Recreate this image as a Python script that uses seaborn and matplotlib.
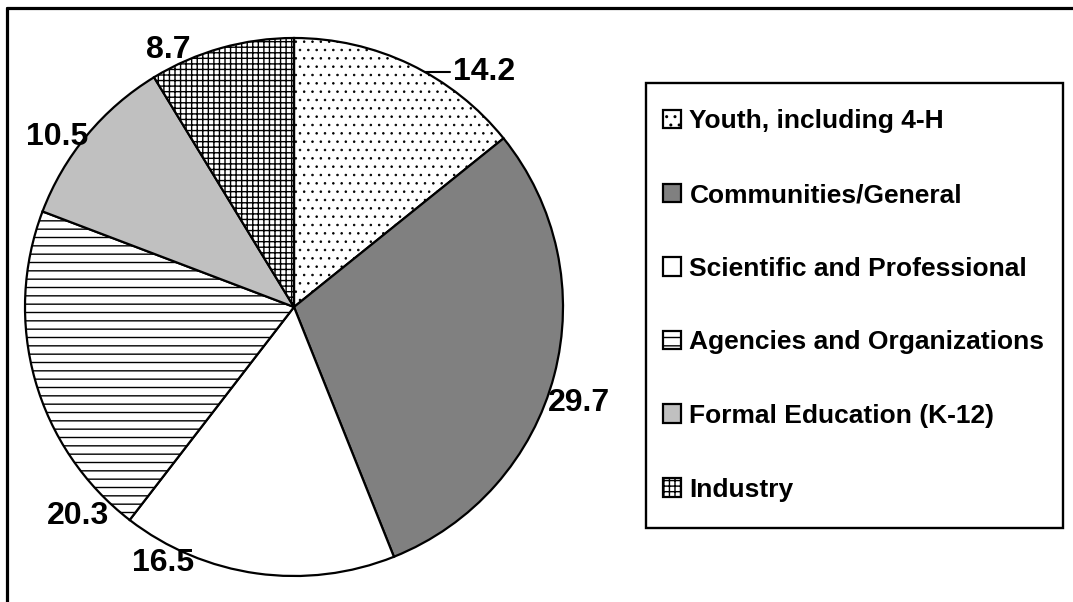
import matplotlib
matplotlib.use("Agg")
import matplotlib.pyplot as plt
import seaborn as sns
from matplotlib.lines import Line2D
from matplotlib.patches import Rectangle
import numpy as np

# ---- data ----
categories = ["Youth, including 4-H", "Communities/General", "Scientific and Professional",
              "Agencies and Organizations", "Formal Education (K-12)", "Industry"]
values = [14.2, 29.7, 16.5, 20.3, 10.5, 8.7]
value_labels = ["14.2", "29.7", "16.5", "20.3", "10.5", "8.7"]

# ---- styles / layout ----
fills = ["#ffffff", "#808080", "#ffffff", "#ffffff", "#c0c0c0", "#ffffff"]
hatches = ["..", None, None, "--", None, "+++"]
# label positions in pie-radius units (layout)
label_pos = [(0.705, 0.874), (1.06, -0.357), (-0.487, -0.952),
             (-0.803, -0.777), (-0.881, 0.632), (-0.468, 0.955)]

sns.set_theme(style="white")
plt.rcParams["font.family"] = ["Liberation Sans", "DejaVu Sans"]
plt.rcParams["font.weight"] = "bold"
plt.rcParams["text.color"] = "black"
plt.rcParams["hatch.linewidth"] = 1.0

W, H = 1073, 602
fig = plt.figure(figsize=(W / 100, H / 100), dpi=100)
fig.patch.set_facecolor("white")

cx, cy, R, half = 294, 307, 269, 290
ax = fig.add_axes([(cx - half) / W, (H - cy - half) / H, 2 * half / W, 2 * half / H])

wedges, _ = ax.pie(values, startangle=90, counterclock=False, radius=1,
                   colors=fills,
                   wedgeprops=dict(edgecolor="black", linewidth=1.6))
for w, h in zip(wedges, hatches):
    if h:
        w.set_hatch(h)
        if h == ".." and hasattr(w, "set_hatch_linewidth"):
            w.set_hatch_linewidth(0.6)
lim = half / R
ax.set_xlim(-lim, lim)
ax.set_ylim(-lim, lim)
ax.axis("off")

for txt, (x, y) in zip(value_labels, label_pos):
    ax.text(x, y, txt, fontsize=23, fontweight="bold", ha="center", va="center",
            color="black", clip_on=False)

# leader line for the first label
y0 = label_pos[0][1]
x_arc = np.sqrt(1 - y0 ** 2)
ax.plot([x_arc, 0.58], [y0, y0], color="black", lw=1.5, clip_on=False)

# legend
leg = fig.legend(wedges, categories, loc="upper left",
                 bbox_to_anchor=(663 / W, 1 - 109.5 / H), frameon=False,
                 borderpad=0, borderaxespad=0, handlelength=0.7, handleheight=0.7,
                 handletextpad=0.3, labelspacing=1.88,
                 prop=dict(weight="bold", size=19))
for t in leg.get_texts():
    t.set_color("black")
fig.add_artist(Rectangle((646 / W, 1 - 528 / H), (1063 - 646) / W, (528 - 83) / H,
                         transform=fig.transFigure, fill=False, edgecolor="black",
                         linewidth=1.7))

# outer frame (top and left edges)
fig.add_artist(Line2D([7 / W, 1], [1 - 8 / H, 1 - 8 / H], transform=fig.transFigure,
                      color="black", lw=2.3))
fig.add_artist(Line2D([7 / W, 7 / W], [0, 1 - 8 / H], transform=fig.transFigure,
                      color="black", lw=2.3))

fig.savefig("out.png", dpi=100, facecolor="white")
